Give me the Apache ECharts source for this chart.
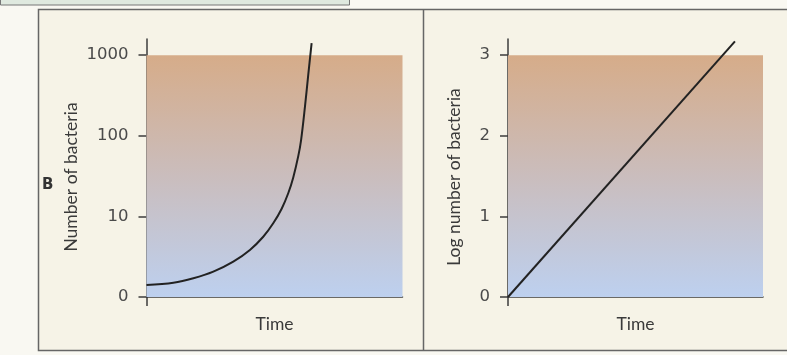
<!DOCTYPE html>
<html>
<head>
<meta charset="utf-8">
<script src="https://cdn.jsdelivr.net/npm/echarts@6/dist/echarts.min.js"></script>
<style>
html,body{margin:0;padding:0;background:#f9f8f2;}
#c{width:787px;height:355px;}
</style>
</head>
<body>
<div id="c"></div>
<script>
// ---- data ----
const leftTickValues = [0, 1, 2, 3];
const leftTickLabels = ['0', '10', '100', '1000'];
const rightTickValues = [0, 1, 2, 3];
const rightTickLabels = ['0', '1', '2', '3'];
// exponential growth curve, in axis-position units
const growthTime = [0, 1.05, 1.83, 2.61, 3.39, 4.04, 4.56, 4.95, 5.28, 5.54, 5.73, 5.93, 6.04, 6.19, 6.32, 6.45];
const growthPos  = [0.149, 0.177, 0.232, 0.314, 0.438, 0.583, 0.747, 0.914, 1.095, 1.29, 1.48, 1.75, 1.95, 2.36, 2.76, 3.15];
// log-linear line
const logTime  = [0, 8.9];
const logValue = [0, 3.17];
const panelNames = ['Number of bacteria', 'Log number of bacteria'];
const xName = 'Time';
const panelLetter = 'B';

const FONT = 'DejaVu Sans';
const AX = '#3c3c3c';
const grad = {
  type: 'linear', x: 0, y: 0, x2: 0, y2: 1,
  colorStops: [
    {offset: 0, color: '#d6ac89'},
    {offset: 0.5, color: '#cabdbd'},
    {offset: 1, color: '#bdd0ef'}
  ]
};

function yAxis(gi, vals, labels, name, pad) {
  return {
    type: 'value', gridIndex: gi, min: 0, max: 3.2,
    splitLine: {show: false},
    axisLine: {show: true, lineStyle: {color: AX, width: 1.5}},
    axisTick: {show: true, length: 8, customValues: vals, lineStyle: {color: AX, width: 1.5}},
    axisLabel: {customValues: vals, margin: 18, color: '#4a4a4a', fontFamily: FONT, fontSize: 16.5,
      formatter: v => labels[vals.indexOf(v)] ?? ''},
    name: name, nameLocation: 'middle', nameRotate: 90,
    nameTextStyle: {fontFamily: 'Lato', fontSize: 17.5, color: '#3a3a3a', padding: pad},
  };
}
function xAxis(gi) {
  return {
    type: 'value', gridIndex: gi, min: 0, max: 10,
    splitLine: {show: false},
    axisLine: {show: true, onZero: false, lineStyle: {color: AX, width: 1.5}},
    axisTick: {show: true, length: 9, customValues: [0], lineStyle: {color: AX, width: 1.5}},
    axisLabel: {show: false},
    name: xName, nameLocation: 'middle', nameGap: 18,
    nameTextStyle: {fontFamily: 'Lato', fontSize: 17.5, color: '#3a3a3a', verticalAlign: 'top'}
  };
}
function bgSeries(i) {
  return {
    type: 'line', xAxisIndex: i, yAxisIndex: i, data: [], z: 1, silent: true,
    markArea: {silent: true, itemStyle: {color: grad, opacity: 1},
      data: [[{coord: [0, 0]}, {coord: [10, 3]}]]}
  };
}

const chart = echarts.init(document.getElementById('c'), null, {renderer: 'canvas'});
chart.setOption({
  animation: false,
  backgroundColor: '#f9f8f2',
  grid: [
    {left: 146.5, top: 39, width: 256, height: 258},
    {left: 508, top: 39, width: 255, height: 258}
  ],
  xAxis: [xAxis(0), xAxis(1)],
  yAxis: [
    Object.assign(yAxis(0, leftTickValues, leftTickLabels, panelNames[0], [0, 18, 0, 0]), {nameGap: 66}),
    Object.assign(yAxis(1, rightTickValues, rightTickLabels, panelNames[1], [0, 18, 0, 0]), {nameGap: 45})
  ],
  graphic: [
    {type: 'rect', z: -10, shape: {x: 0.5, y: -2, width: 349, height: 7}, style: {fill: '#dfe9df', stroke: '#777', lineWidth: 1}},
    {type: 'rect', z: -10, shape: {x: 38.5, y: 9.5, width: 760, height: 341}, style: {fill: '#f6f3e7', stroke: '#666', lineWidth: 1.5}},
    {type: 'line', z: -9, shape: {x1: 423.5, y1: 9.5, x2: 423.5, y2: 350}, style: {stroke: '#666', lineWidth: 1.5}},
    {type: 'text', left: 42, top: 178, style: {text: panelLetter, font: 'bold 15px "DejaVu Sans"', fill: '#333'}}
  ],
  series: [
    bgSeries(0), bgSeries(1),
    {type: 'line', xAxisIndex: 0, yAxisIndex: 0, z: 5, smooth: 0.35, symbol: 'none',
      lineStyle: {color: '#222', width: 2},
      data: growthTime.map((t, i) => [t, growthPos[i]])},
    {type: 'line', xAxisIndex: 1, yAxisIndex: 1, z: 5, symbol: 'none',
      lineStyle: {color: '#222', width: 2},
      data: logTime.map((t, i) => [t, logValue[i]])}
  ]
});
</script>
</body>
</html>
